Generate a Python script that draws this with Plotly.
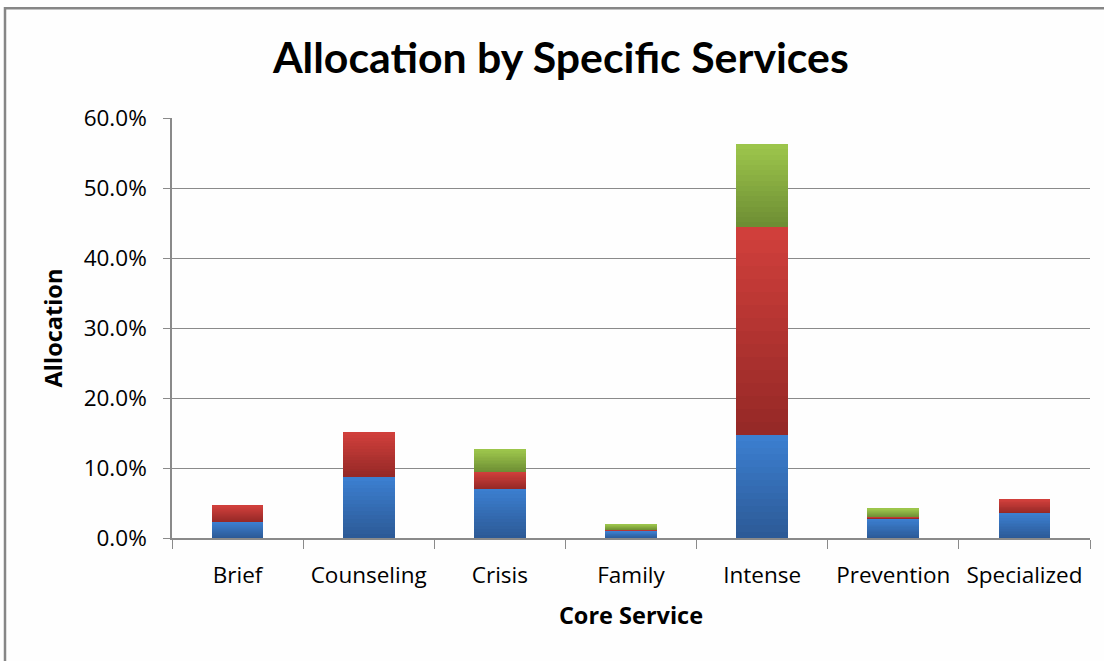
import plotly.graph_objects as go

# Core service categories and allocation shares (percent of total)
categories = ["Brief", "Counseling", "Crisis", "Family", "Intense", "Prevention", "Specialized"]
series_a = [2.35, 8.73, 7.11, 1.03, 14.77, 2.83, 3.60]   # blue
series_b = [2.29, 6.37, 2.34, 0.18, 29.59, 0.24, 1.91]   # red
series_c = [0.00, 0.00, 3.18, 0.76, 11.90, 1.10, 0.00]   # green

y_ticks = [0, 10, 20, 30, 40, 50, 60]
y_tick_text = ["0.0%", "10.0%", "20.0%", "30.0%", "40.0%", "50.0%", "60.0%"]

# (bottom colour, top colour) for a vertical gradient on each segment
gradients = [
    ((0x2C, 0x59, 0x95), (0x3C, 0x80, 0xD2)),
    ((0x94, 0x28, 0x26), (0xD2, 0x40, 0x3C)),
    ((0x6C, 0x8C, 0x33), (0x9E, 0xC7, 0x4C)),
]
names = ["Series 1", "Series 2", "Series 3"]
STEPS = 16

fig = go.Figure()
for values, (lo, hi), name in zip([series_a, series_b, series_c], gradients, names):
    for k in range(STEPS):
        t = (k + 0.5) / STEPS
        rgb = tuple(round(lo[i] + (hi[i] - lo[i]) * t) for i in range(3))
        fig.add_trace(go.Bar(
            x=categories,
            y=[v / STEPS for v in values],
            customdata=values,
            name=name,
            marker=dict(color="rgb(%d,%d,%d)" % rgb, line=dict(width=0)),
            hovertemplate="%{x}: %{customdata:.1f}%<extra>" + name + "</extra>",
            showlegend=False,
        ))

grid = "#8a8a8a"
fig.update_layout(
    width=1104, height=661,
    barmode="stack", bargap=0.605,
    paper_bgcolor="#fefefe", plot_bgcolor="#fefefe",
    margin=dict(l=172, r=14, t=118, b=122.5),
    font=dict(family="Open Sans", color="#000000"),
    title=dict(
        text="<b>Allocation by Specific Services</b>",
        font=dict(family="Lato", size=42.8, color="#000000"),
        x=0.508, xanchor="center", y=0.912, yanchor="middle",
    ),
    xaxis=dict(
        tickson="boundaries", ticks="outside", ticklen=9, tickcolor=grid,
        showline=True, linecolor=grid, linewidth=1.5,
        tickfont=dict(size=22.5, family="Open Sans"),
        ticklabelstandoff=16,
        title=dict(text="<b>Core Service</b>", font=dict(size=23.5, family="Open Sans"), standoff=19),
        showgrid=False, fixedrange=True,
    ),
    yaxis=dict(
        range=[0, 60], tickvals=y_ticks, ticktext=y_tick_text,
        ticks="outside", ticklen=7, tickcolor=grid,
        showline=True, linecolor=grid, linewidth=1.5,
        showgrid=True, gridcolor=grid, gridwidth=1,
        zeroline=False,
        tickfont=dict(size=22.5, family="Open Sans"),
        ticklabelstandoff=12,
        title=dict(text="<b>Allocation</b>", font=dict(size=23.5, family="Open Sans"), standoff=14),
        fixedrange=True,
    ),
    shapes=[dict(
        type="rect", xref="paper", yref="paper",
        x0=(5 - 172) / 918, x1=(1300 - 172) / 918,
        y0=(538.5 - 800) / 420.5, y1=(538.5 - 8) / 420.5,
        line=dict(color="#868686", width=2.5), fillcolor="rgba(0,0,0,0)", layer="below",
    )],
)

fig.write_html("out.html")
